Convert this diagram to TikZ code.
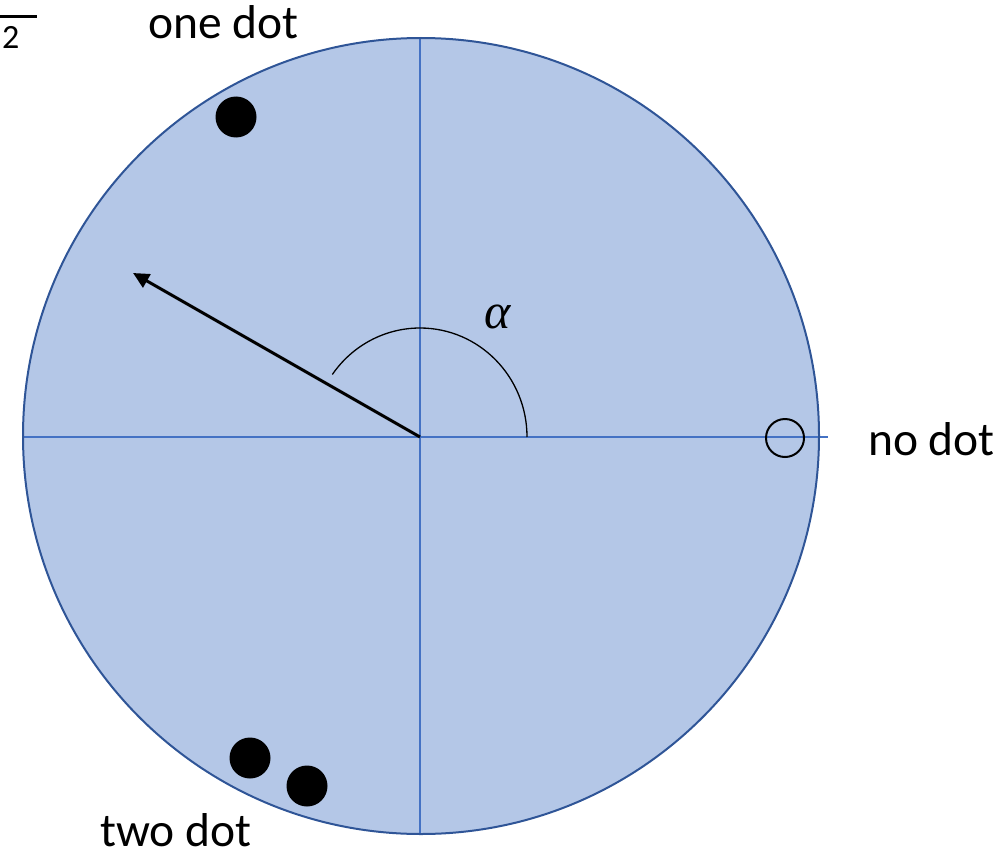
\documentclass[tikz,border=0pt]{standalone}
\usepackage{fontspec}
\setmainfont{Carlito}
\newfontfamily\greekfont{Liberation Serif}
\usetikzlibrary{arrows.meta}
\definecolor{discfill}{HTML}{B4C7E7}
\definecolor{discedge}{HTML}{2F5597}
\definecolor{axis}{HTML}{4472C4}
\tikzset{
  lbl/.style={font=\fontsize{47.5}{57}\selectfont, inner sep=0pt, anchor=base west},
  bigdot/.style={circle, fill=black, minimum size=41pt, inner sep=0pt},
  opendot/.style={circle, draw=black, line width=2pt, minimum size=38pt, inner sep=0pt},
}
\begin{document}
\begin{tikzpicture}[x=1pt,y=-1pt]
\useasboundingbox (0,0) rectangle (1008,848);
\coordinate (c) at (421,436);
\fill[discfill] (c) circle[radius=398];
\draw[axis, line width=1.3pt] (22,437) -- (828,437);
\draw[axis, line width=1.3pt] (420,38) -- (420,833);
\draw[discedge, line width=2pt] (c) circle[radius=398];
\coordinate (o) at (420,437);
\coordinate (tip) at (133,273);
\draw[line width=3pt, -{Triangle[length=16pt,width=15pt]}] (o) -- (tip);
\draw[line width=1.3pt] (527,437) arc[start angle=0, end angle=-145, x radius=107, y radius=109];
\node[inner sep=0pt, font=\greekfont\itshape\fontsize{50}{60}\selectfont] (alpha) at (498,317) {α};
\node[opendot] (nodot) at (785,438) {};
\node[bigdot] (d1) at (236,117) {};
\node[bigdot] (d2) at (250,758) {};
\node[bigdot] (d3) at (307,786) {};
\node[lbl] (l1) at (148,39) {one dot};
\node[lbl] (l2) at (868,455) {no dot};
\node[lbl] (l3) at (100,846) {two dot};
\node[inner sep=0pt, anchor=base west, font=\fontsize{34}{40}\selectfont] (two) at (2,49) {2};
\draw[line width=3pt] (0,17) -- (37,17);
\end{tikzpicture}
\end{document}
